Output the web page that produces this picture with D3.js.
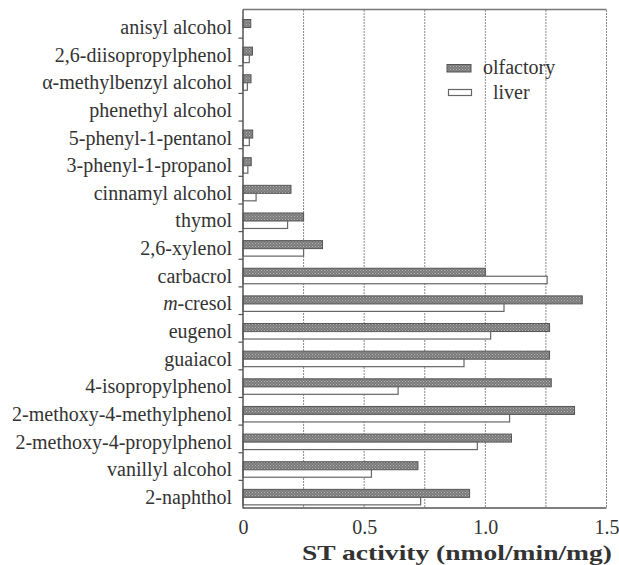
<!DOCTYPE html>
<html><head><meta charset="utf-8">
<script src="https://cdn.jsdelivr.net/npm/d3@7"></script>
<style>body{margin:0;background:#fff}svg{display:block}</style>
</head><body>
<script>
const categories = ["anisyl alcohol","2,6-diisopropylphenol","α-methylbenzyl alcohol","phenethyl alcohol","5-phenyl-1-pentanol","3-phenyl-1-propanol","cinnamyl alcohol","thymol","2,6-xylenol","carbacrol","m-cresol","eugenol","guaiacol","4-isopropylphenol","2-methoxy-4-methylphenol","2-methoxy-4-propylphenol","vanillyl alcohol","2-naphthol"];
const olfactory = [0.032,0.039,0.033,0,0.040,0.034,0.198,0.250,0.328,1.000,1.400,1.265,1.265,1.272,1.368,1.108,0.722,0.935];
const liver =     [0,0.026,0.018,0,0.026,0.020,0.054,0.184,0.250,1.255,1.077,1.022,0.912,0.640,1.100,0.967,0.530,0.733];
const xTicks = [0,0.5,1.0,1.5];
const gridValues = [0.25,0.5,0.75,1.0,1.25,1.5];
const seriesNames = ["olfactory","liver"];

const W=619,H=565;
const svg=d3.select("body").append("svg").attr("width",W).attr("height",H);
const defs=svg.append("defs");
const pat=defs.append("pattern").attr("id","stip").attr("width",3).attr("height",3).attr("patternUnits","userSpaceOnUse");
pat.append("rect").attr("width",3).attr("height",3).attr("fill","#7a7a7a");
pat.append("rect").attr("x",0).attr("y",0).attr("width",1).attr("height",1).attr("fill","#b4b4b4");
pat.append("rect").attr("x",1.5).attr("y",1.5).attr("width",1).attr("height",1).attr("fill","#a8a8a8");

const x=d3.scaleLinear().domain([0,1.5]).range([243,606.5]);
const y=d3.scaleBand().domain(categories).range([10.5,508]).paddingInner(0).paddingOuter(0);
const bw=y.step();
const txt="#333";
const font="'Liberation Serif','Times New Roman',serif";

// grid
svg.append("g").selectAll("line").data(gridValues).join("line")
  .attr("x1",d=>x(d)).attr("x2",d=>x(d)).attr("y1",10).attr("y2",508)
  .attr("stroke","#8a8a8a").attr("stroke-width",1).attr("stroke-dasharray","2,1");

// top and bottom frame
svg.append("line").attr("x1",x(0)).attr("x2",x(1.5)).attr("y1",9.5).attr("y2",9.5).attr("stroke","#777").attr("stroke-width",1.5);
svg.append("line").attr("x1",x(0)).attr("x2",x(1.5)).attr("y1",508).attr("y2",508).attr("stroke","#555").attr("stroke-width",1.5);

// bars
const g=svg.append("g");
g.selectAll("rect.olf").data(categories).join("rect").attr("class","olf")
  .attr("x",x(0)).attr("y",d=>y(d)+9).attr("height",8)
  .attr("width",(d,i)=>x(olfactory[i])-x(0))
  .attr("fill","url(#stip)").attr("stroke",(d,i)=>olfactory[i]>0?"#555":"none").attr("stroke-width",1);
g.selectAll("rect.liv").data(categories).join("rect").attr("class","liv")
  .attr("x",x(0)).attr("y",d=>y(d)+17).attr("height",7.5)
  .attr("width",(d,i)=>x(liver[i])-x(0))
  .attr("fill","#fff").attr("stroke",(d,i)=>liver[i]>0?"#666":"none").attr("stroke-width",1.2);

// left axis
svg.append("line").attr("x1",243).attr("x2",243).attr("y1",9.5).attr("y2",508.5).attr("stroke","#555").attr("stroke-width",1.5);
const bounds=categories.slice(1).map(c=>y(c));
svg.append("g").selectAll("line").data(bounds).join("line")
  .attr("x1",238.5).attr("x2",243).attr("y1",d=>d).attr("y2",d=>d).attr("stroke","#555").attr("stroke-width",1.2);

// category labels
const lab=svg.append("g").attr("font-family",font).attr("font-size",20).attr("fill",txt).attr("text-anchor","end");
categories.forEach(c=>{
  const t=lab.append("text").attr("x",232).attr("y",y(c)+23.5);
  if(c.startsWith("m-")){t.append("tspan").attr("font-style","italic").text("m");t.append("tspan").text(c.slice(1));}
  else t.text(c);
});

// x axis tick labels
const xa=d3.axisBottom(x).tickValues(xTicks).tickSize(0).tickPadding(0).tickFormat(d=>d===0?"0":d.toFixed(1));
const ax=svg.append("g").attr("transform","translate(0,518)").call(xa);
ax.select(".domain").remove();
ax.selectAll("text").attr("font-family",font).attr("font-size",20).attr("fill",txt).attr("dy","0.8em");

// title
svg.append("text").attr("x",457).attr("y",560).attr("text-anchor","middle")
  .attr("font-family",font).attr("font-weight","bold").attr("font-size",22).attr("fill","#333")
  .attr("textLength",310).attr("lengthAdjust","spacingAndGlyphs").text("ST activity (nmol/min/mg)");

// legend
const lg=svg.append("g");
lg.append("rect").attr("x",447).attr("y",64.5).attr("width",24).attr("height",7.5).attr("fill","url(#stip)").attr("stroke","#555");
lg.append("rect").attr("x",448.5).attr("y",89.5).attr("width",23).attr("height",6).attr("fill","#fff").attr("stroke","#666").attr("stroke-width",1.2);
lg.append("text").attr("x",483).attr("y",73.5).attr("font-family",font).attr("font-size",20).attr("fill",txt).text(seriesNames[0]);
lg.append("text").attr("x",493).attr("y",98.5).attr("font-family",font).attr("font-size",20).attr("fill",txt).text(seriesNames[1]);
</script>
</body></html>
